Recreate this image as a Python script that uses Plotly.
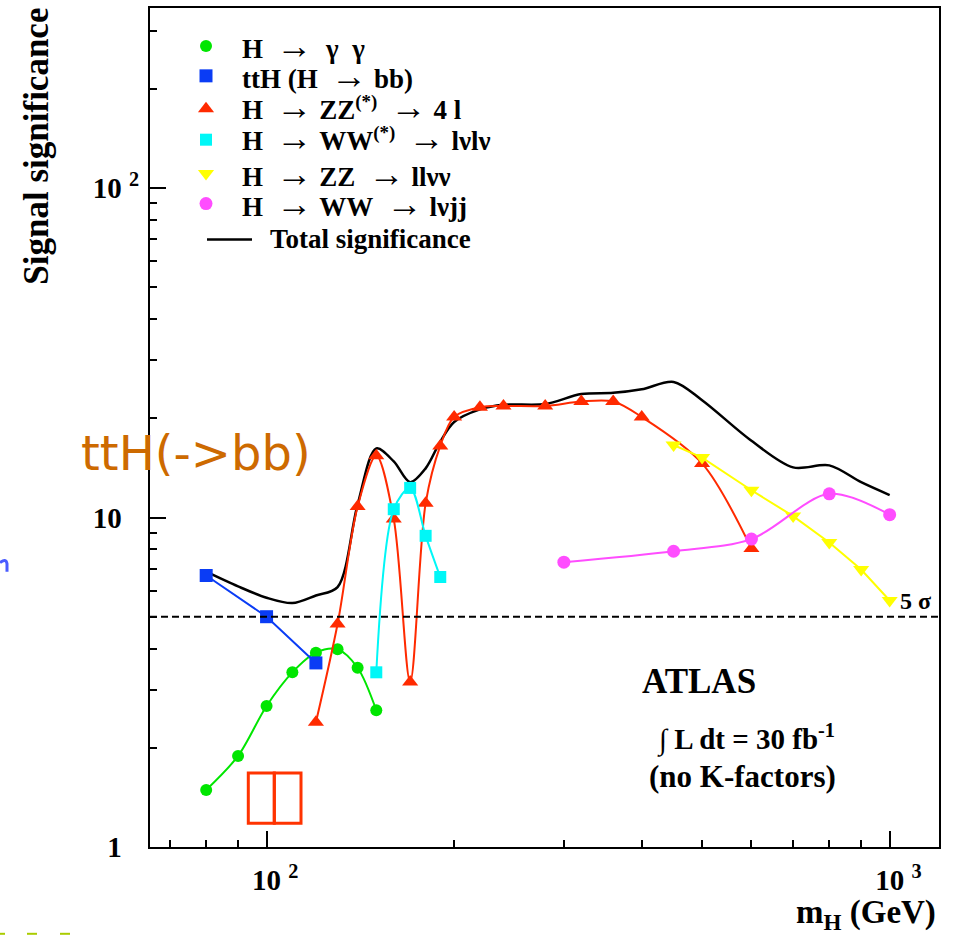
import math
import plotly.graph_objects as go

# Expected signal significance vs Higgs mass, ATLAS, 30 fb^-1 (no K-factors)
mass_gg = [80, 90, 100, 110, 120, 130, 140, 150]
sig_gg = [1.49, 1.89, 2.68, 3.39, 3.89, 3.98, 3.50, 2.60]

mass_tth = [80, 100, 120]
sig_tth = [6.67, 5.0, 3.62]

mass_zz4l = [120, 130, 140, 150, 160, 170, 180, 190, 200, 220, 240, 280, 320, 360, 400, 500, 600]
sig_zz4l = [2.39, 4.75, 10.8, 15.4, 9.9, 3.17, 11.05, 16.5, 20.2, 21.6, 21.8, 21.8, 22.5, 22.5, 20.2, 14.6, 8.05]

mass_wwlvlv = [150, 160, 170, 180, 190]
sig_wwlvlv = [3.39, 10.6, 12.3, 8.8, 6.6]

mass_zzllvv = [450, 500, 600, 700, 800, 900, 1000]
sig_zzllvv = [16.6, 15.2, 12.1, 10.1, 8.4, 6.95, 5.6]

mass_wwlvjj = [300, 450, 600, 800, 1000]
sig_wwlvjj = [7.32, 7.9, 8.6, 11.8, 10.2]

mass_total = [80, 90, 100, 110, 120, 130, 140, 150, 160, 170, 180, 190, 200, 220,
              240, 280, 320, 360, 400, 450, 500, 600, 700, 800, 900, 1000]
sig_total = [6.85, 6.18, 5.71, 5.50, 5.80, 6.15, 10.95, 16.2, 14.8, 12.8, 14.1, 17.0, 19.5, 21.3,
             22.0, 22.1, 23.7, 23.9, 24.5, 25.8, 22.7, 17.1, 14.2, 14.4, 12.8, 11.7]

FIVE_SIGMA = 5.0
X_RANGE = (65, 1200)
Y_RANGE = (1, 352)

NB = "\u00a0"
x_major = [100, 1000]
x_major_text = [f"{NB}<sup>{NB}{NB}</sup>10{NB}<sup>2</sup>", f"{NB}<sup>{NB}{NB}</sup>10{NB}<sup>3</sup>"]
x_minor = [70, 80, 90, 200, 300, 400, 500, 600, 700, 800, 900]
y_major = [1, 10, 100]
y_major_text = [f"1{NB}<sup>{NB}{NB}</sup>", f"10{NB}<sup>{NB}{NB}</sup>", f"10{NB}<sup>2</sup>"]
y_minor = [2, 3, 4, 5, 6, 7, 8, 9, 20, 30, 40, 50, 60, 70, 80, 90, 200, 300]

GREEN = "#00e600"
BLUE = "#0a3cf5"
RED = "#ff2a00"
CYAN = "#00f7f7"
YELLOW = "#ffff00"
MAGENTA = "#ff4dff"

SERIF = "Liberation Serif"

W, H = 954, 935
ML, MR, MT, MB = 150, 15, 6, 88
PW, PH = W - ML - MR, H - MT - MB


def px(x):
    return (x - ML) / PW


def py(y):
    return (H - MB - y) / PH


def sp(n):
    return NB * n


ARROW = '<span style="font-size:36px">\u2192</span>'

labels = [
    f"H{sp(2)}{ARROW}{sp(2)}\u03b3{sp(2)}\u03b3",
    f"ttH (H{sp(2)}{ARROW}{sp(1)}bb)",
    f"H{sp(2)}{ARROW}{sp(1)}ZZ<sup>(*)</sup>{sp(2)}{ARROW}{sp(1)}4 l",
    f"H{sp(2)}{ARROW}{sp(1)}WW<sup>(*)</sup>{sp(2)}{ARROW}{sp(1)}l\u03bdl\u03bd",
    f"H{sp(2)}{ARROW}{sp(1)}ZZ{sp(2)}{ARROW}{sp(1)}ll\u03bd\u03bd",
    f"H{sp(2)}{ARROW}{sp(1)}WW{sp(2)}{ARROW}{sp(1)}l\u03bdjj",
]

fig = go.Figure()

fig.add_trace(go.Scatter(x=mass_total, y=sig_total, mode="lines",
                         line=dict(color="black", width=2.5, shape="spline", smoothing=0.9),
                         showlegend=False))

series = [
    (mass_gg, sig_gg, GREEN, "circle", 12, "spline"),
    (mass_tth, sig_tth, BLUE, "square", 13, "linear"),
    (mass_zz4l, sig_zz4l, RED, "triangle-up", 14, "spline"),
    (mass_wwlvlv, sig_wwlvlv, CYAN, "square", 12, "spline"),
    (mass_zzllvv, sig_zzllvv, YELLOW, "triangle-down", 14, "linear"),
    (mass_wwlvjj, sig_wwlvjj, MAGENTA, "circle", 13, "spline"),
]

for xs, ys, col, sym, size, shape in series:
    fig.add_trace(go.Scatter(x=xs, y=ys, mode="lines+markers",
                             line=dict(color=col, width=2, shape=shape, smoothing=0.9),
                             marker=dict(color=col, symbol=sym, size=size, line=dict(width=0)),
                             showlegend=False))

bold = dict(family=SERIF, color="black", weight="bold")

# key box in the upper left: symbols on an overlay axis spanning the plot area, labels as text
legend_rows = [44, 74, 107, 138, 172, 202, 238]
KEY_X, TEXT_X, TOTAL_TEXT_X = 206, 240, 268
annotations = []
for (xs, ys, col, sym, size, shape), name, row in zip(series, labels, legend_rows):
    fig.add_trace(go.Scatter(x=[px(KEY_X)], y=[py(row)], xaxis="x2", yaxis="y2", mode="markers",
                             marker=dict(color=col, symbol=sym, size=size, line=dict(width=0)),
                             showlegend=False, hoverinfo="skip"))
    shift = 2 if "<sup>" in name else 0
    annotations.append(dict(x=px(TEXT_X), y=py(row), xref="paper", yref="paper", xanchor="left",
                            yanchor="middle", yshift=shift, text=name, showarrow=False,
                            font=dict(size=27, **bold)))
fig.add_trace(go.Scatter(x=[px(207), px(252)], y=[py(legend_rows[-1])] * 2, xaxis="x2", yaxis="y2",
                         mode="lines", line=dict(color="black", width=2.5), showlegend=False,
                         hoverinfo="skip"))
annotations.append(dict(x=px(TOTAL_TEXT_X), y=py(legend_rows[-1]), xref="paper", yref="paper",
                        xanchor="left", yanchor="middle", text="Total significance", showarrow=False,
                        font=dict(size=27, **bold)))

shapes = [
    dict(type="line", xref="paper", x0=0, x1=1, yref="y", y0=FIVE_SIGMA, y1=FIVE_SIGMA,
         line=dict(color="black", width=2, dash="7px,4px")),
    # hand-drawn marks
    dict(type="rect", xref="paper", yref="paper", x0=px(248.3), x1=px(274.3), y0=py(823.3), y1=py(772.7),
         line=dict(color="#ff3300", width=3)),
    dict(type="rect", xref="paper", yref="paper", x0=px(274.3), x1=px(301), y0=py(823.3), y1=py(772.7),
         line=dict(color="#ff3300", width=3)),
    dict(type="path", xref="paper", yref="paper",
         path=f"M {px(0)} {py(562)} Q {px(6)} {py(557)} {px(7)} {py(563)} L {px(7)} {py(571)}",
         line=dict(color="#4a5cff", width=3)),
]
for x0, x1 in [(0, 5), (27, 37), (60, 70)]:
    shapes.append(dict(type="line", xref="paper", yref="paper", x0=px(x0), x1=px(x1),
                       y0=py(934), y1=py(934), line=dict(color="#aacc00", width=2)))

annotations += [
    dict(x=math.log10(1030), y=math.log10(FIVE_SIGMA), xref="x", yref="y", xanchor="left", yanchor="bottom",
         text="5 \u03c3", showarrow=False, font=dict(size=24, **bold), yshift=1),
    dict(x=px(699), y=py(681), xref="paper", yref="paper", xanchor="center", yanchor="middle",
         text="ATLAS", showarrow=False, font=dict(size=35, **bold)),
    dict(x=px(655), y=py(738), xref="paper", yref="paper", xanchor="left", yanchor="middle",
         text="\u222b L dt = 30 fb<sup>-1</sup>", showarrow=False, font=dict(size=29, **bold)),
    dict(x=px(647), y=py(776), xref="paper", yref="paper", xanchor="left", yanchor="middle",
         text="(no K-factors)", showarrow=False, font=dict(size=31, **bold)),
    dict(x=px(938), y=py(915), xref="paper", yref="paper", xanchor="right", yanchor="middle",
         text="m<sub>H</sub> (GeV)", showarrow=False, font=dict(size=33, **bold)),
    dict(x=px(37), y=py(145), xref="paper", yref="paper", xanchor="center", yanchor="middle",
         text="Signal significance", textangle=-90, showarrow=False, font=dict(size=35, **bold)),
    dict(x=px(196), y=py(452), xref="paper", yref="paper", xanchor="center", yanchor="middle",
         text="ttH(->bb)", showarrow=False, font=dict(family="DejaVu Sans", size=48, color="#cd6a00")),
]

fig.update_layout(
    width=W, height=H,
    margin=dict(l=ML, r=MR, t=MT, b=MB),
    paper_bgcolor="white", plot_bgcolor="white",
    showlegend=False,
    shapes=shapes,
    annotations=annotations,
    xaxis=dict(type="log", range=[math.log10(X_RANGE[0]), math.log10(X_RANGE[1])],
               showgrid=False, zeroline=False, showline=True, mirror=True, linecolor="black", linewidth=2,
               tickmode="array", tickvals=x_major, ticktext=x_major_text, ticks="inside", ticklen=16,
               tickwidth=1.5, tickcolor="black", tickfont=dict(size=29, **bold), ticklabelstandoff=6,
               minor=dict(tickmode="array", tickvals=x_minor, ticks="inside", ticklen=7,
                          tickwidth=1.5, tickcolor="black", showgrid=False)),
    yaxis=dict(type="log", range=[math.log10(Y_RANGE[0]), math.log10(Y_RANGE[1])],
               showgrid=False, zeroline=False, showline=True, mirror=True, linecolor="black", linewidth=2,
               tickmode="array", tickvals=y_major, ticktext=y_major_text, ticks="inside", ticklen=16,
               tickwidth=1.5, tickcolor="black", tickfont=dict(size=29, **bold), ticklabelstandoff=3,
               minor=dict(tickmode="array", tickvals=y_minor, ticks="inside", ticklen=7,
                          tickwidth=1.5, tickcolor="black", showgrid=False)),
    xaxis2=dict(overlaying="x", range=[0, 1], visible=False, fixedrange=True),
    yaxis2=dict(overlaying="y", range=[0, 1], visible=False, fixedrange=True),
)

fig.write_html("out.html")
